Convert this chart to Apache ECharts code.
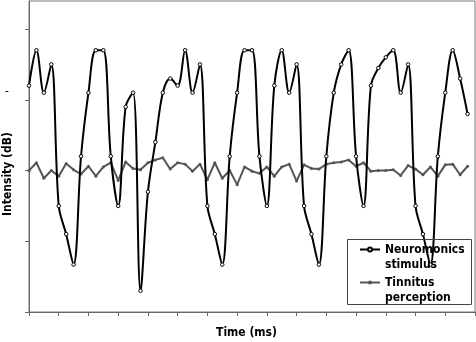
<!DOCTYPE html>
<html>
<head>
<meta charset="utf-8">
<script src="https://cdn.jsdelivr.net/npm/echarts@6/dist/echarts.min.js"></script>
<style>
  html, body { margin: 0; padding: 0; background: #fff; }
  #chart { width: 476px; height: 342px; }
</style>
</head>
<body>
<div id="chart"></div>
<script>
// Samples every quarter of a time division
const sampleStep = 0.25;

// Stimulus intensity per sample
const stimulusValues = [
  1.2, 1.7, 1.1, 1.5, -0.5, -0.9, -1.33, 0.2, 1.1, 1.7,
  1.7, 0.2, -0.5, 0.9, 1.1, -1.7, -0.3, 0.4, 1.1, 1.3,
  1.2, 1.7, 1.1, 1.5, -0.5, -0.9, -1.33, 0.2, 1.1, 1.7,
  1.7, 0.2, -0.5, 1.2, 1.7, 1.1, 1.5, -0.5, -0.9, -1.33,
  0.2, 1.1, 1.5, 1.7, 0.2, -0.5, 1.2, 1.45, 1.6, 1.7,
  1.1, 1.5, -0.5, -0.9, -1.33, 0.2, 1.1, 1.7, 1.3, 0.8
];

// Perceived tinnitus intensity per sample
const perceptionValues = [
  0.0, 0.11, -0.11, 0.0, -0.08, 0.10, 0.01, -0.05, 0.06, -0.08,
  0.05, 0.11, -0.14, 0.12, 0.03, 0.01, 0.11, 0.15, 0.18, 0.02,
  0.11, 0.09, -0.01, 0.09, -0.13, 0.11, -0.11, 0.0, -0.2, 0.05,
  -0.01, -0.04, 0.05, -0.08, 0.05, 0.09, -0.15, 0.08, 0.03, 0.02,
  0.09, 0.11, 0.12, 0.15, 0.06, 0.11, -0.01, 0.0, 0.0, 0.01,
  -0.07, 0.07, 0.02, -0.06, 0.05, -0.08, 0.08, 0.09, -0.06, 0.06
];

const seriesNames = ['Neuromonics stimulus', 'Tinnitus perception'];
const yTickValues = [-2, -1, 0, 1, 2];

const toPoints = vals => vals.map((v, i) => [i * sampleStep, v]);

const boldFont = '"DejaVu Sans Condensed", "DejaVu Sans", sans-serif';

const chart = echarts.init(document.getElementById('chart'), null, { renderer: 'canvas' });

chart.setOption({
  animation: false,
  backgroundColor: '#fff',
  grid: {
    left: 29, right: 1, top: 1, bottom: 30,
    show: true, borderColor: '#7a7a7a', borderWidth: 1, backgroundColor: 'transparent'
  },
  xAxis: {
    type: 'value', min: 0, max: 15, interval: 1,
    axisLine: { show: true, onZero: false, lineStyle: { color: '#666', width: 1 } },
    axisTick: { show: true, inside: false, length: 4, lineStyle: { color: '#666' } },
    axisLabel: { show: false },
    splitLine: { show: false }
  },
  yAxis: {
    type: 'value', min: -2, max: 2.396,
    axisLine: { show: true, onZero: false, lineStyle: { color: '#666', width: 1 } },
    axisTick: { show: true, inside: false, length: 4, customValues: yTickValues, lineStyle: { color: '#666' } },
    axisLabel: { show: false },
    splitLine: { show: false }
  },
  legend: {
    orient: 'vertical',
    left: 359, top: 227,
    padding: 0,
    itemGap: -12,
    itemWidth: 20, itemHeight: 5,
    backgroundColor: 'transparent',
    // a blank first line keeps the marker level with the first line of the name
    formatter: name => '{gap| }\n' + name.replace(' ', '\n'),
    textStyle: {
      fontFamily: boldFont, fontWeight: 'bold', fontSize: 12,
      color: '#000', lineHeight: 15,
      rich: { gap: { lineHeight: 15, fontSize: 12 } }
    },
    data: seriesNames
  },
  series: [
    {
      name: seriesNames[0],
      type: 'line',
      data: toPoints(stimulusValues),
      smooth: 0.35,
      symbol: 'circle', symbolSize: 3.5,
      itemStyle: { color: '#fff', borderColor: '#000', borderWidth: 1 },
      lineStyle: { color: '#000', width: 2 },
      z: 3
    },
    {
      name: seriesNames[1],
      type: 'line',
      data: toPoints(perceptionValues),
      symbol: 'circle', symbolSize: 3,
      itemStyle: { color: '#555', borderColor: '#555', borderWidth: 0 },
      lineStyle: { color: '#555', width: 2 },
      z: 2
    }
  ],
  graphic: [
    {
      type: 'rect', shape: { x: 347.5, y: 239.5, width: 124, height: 65 },
      style: { fill: 'none', stroke: '#444', lineWidth: 1 }, z: 10
    },
    {
      type: 'text', x: 246.5, y: 333,
      style: { text: 'Time (ms)', font: 'bold 12px ' + boldFont, fill: '#000', align: 'center', verticalAlign: 'middle' }
    },
    {
      type: 'text', x: 8, y: 174, rotation: Math.PI / 2,
      style: { text: 'Intensity (dB)', font: 'bold 12px ' + boldFont, fill: '#000', align: 'center', verticalAlign: 'middle' }
    },
    {
      type: 'text', x: 7, y: 92,
      style: { text: '-', font: '12px ' + boldFont, fill: '#000', align: 'center', verticalAlign: 'middle' }
    }
  ]
});
</script>
</body>
</html>
